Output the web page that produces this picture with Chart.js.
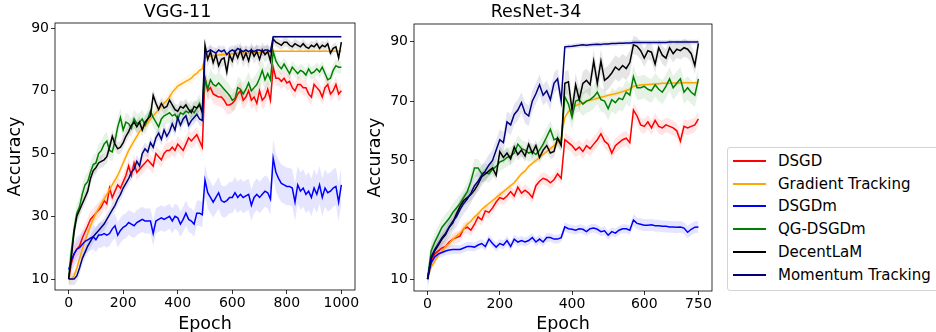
<!DOCTYPE html>
<html>
<head>
<meta charset="utf-8">
<script src="https://cdn.jsdelivr.net/npm/chart.js@4.4.1/dist/chart.umd.min.js"></script>
<style>
  html, body { margin: 0; padding: 0; background: #fff; width: 936px; height: 332px; overflow: hidden; position: relative; }
  canvas { position: absolute; top: 0; }
  #legend { position: absolute; left: 727px; top: 147px; width: 240px; height: 142px;
            border: 1px solid #d4d4d4; border-radius: 3px; background: #fff;
            font-family: "DejaVu Sans", sans-serif; font-size: 15px; color: #000; }
  .sw { position: absolute; left: 5px; width: 33px; height: 2px; }
  .lb { position: absolute; left: 50px; height: 20px; line-height: 20px; white-space: nowrap; }
</style>
</head>
<body>
<canvas id="vgg" width="370" height="340" style="left:0px"></canvas>
<canvas id="resnet" width="370" height="340" style="left:360px"></canvas>
<div id="legend"></div>
<script>
// methods, in legend / drawing order
const methods = ["DSGD", "Gradient Tracking", "DSGDm", "QG-DSGDm", "DecentLaM", "Momentum Tracking"];
const colors = ["#ff0000", "#ffa500", "#0000ff", "#008000", "#000000", "#000080"];
const yTicks = [10, 30, 50, 70, 90];
const vggXTicks = [0, 200, 400, 600, 800, 1000];
const resXTicks = [0, 200, 400, 600, 750];

// epochs sampled every 10
const vggEpochs = Array.from({length: 101}, (_, i) => i * 10);
const resEpochs = Array.from({length: 76}, (_, i) => i * 10);

// learning-rate drops (start epoch of each stage)
const vggStageStarts = [0, 500, 750];
const resStageStarts = [0, 380, 570];

// ---- VGG-11 ----
const vggDSGD = [10,15,18,19.5,20.5,23,25,27,29,30,
  31,32,33,35,34,39,36,38,40,39,
  41,43,46,43,47,44,45,46,47,48,
  47,46,50,49,48,50,51,51,52,51,
  53,52,51,53,55,54,55,56,54,52,
  74,70,71,69,68.5,68,68,67,65.5,65.5,
  66,67,69,70,67,68,70,67,68,66,
  70,67,68,70.5,67,77.5,74,74,73,74,
  72.5,73,71,70,72,72,71,71,69,68,
  72,71,70,68,71,72,69,70,72,69,
  70];
const vggGT = [10,10,11,13.5,16.5,19.5,22,24.5,27,29,
  31,32.5,34,35.5,37,38.5,40,41.5,43,45,
  47,49,51,52.5,54,55.5,57,58,59,60,
  61,62,63,64,65,66,67,68,69.5,70.5,
  71.5,72,72.5,73,73.5,74,75,75.5,76.5,77,
  80.5,81,81,81.2,81.3,81.4,81.5,81.5,81.6,81.7,
  81.8,81.8,81.9,81.9,82,82,82,82.1,82.1,82.1,
  82.2,82.2,82.2,82.3,82.3,82.6,82.6,82.6,82.6,82.6,
  82.6,82.6,82.6,82.6,82.6,82.6,82.6,82.6,82.6,82.6,
  82.6,82.6,82.6,82.6,82.6,82.6,82.6,82.6,82.6,82.6,
  82.6];
const vggDSGDm = [13,16,18,19.5,20,21,22,22.5,23,23.5,
  22.5,24,24,24.5,24,24.5,26,27,24,25.5,
  26.5,27,28,27.5,27,28,28.5,29,28.5,28.5,
  28.5,24.5,28.5,29,29.5,29,29.5,30,28.5,30,
  29.5,27.5,29,31,29,28.5,27.5,31,31,30.5,
  41.5,37.5,36,34.5,36,37.5,35,34.5,35,36,
  36,37.5,36,37,36,36.5,37,33.5,36,37,
  36,37,38,37.5,35.5,48.5,44,42,40.5,40,
  39.5,39.5,39,34.5,40,38,39,37,38,36,
  39,37,40,36,39,37.5,38,39,39.5,34.5,
  40];
const vggQG = [10,19,26,31,33,37,40,41,44,46.5,
  47,50,51,53,54,51,50.5,54,58.5,61.5,
  57.5,60,59.5,58,61,59.5,60,61,59,61,
  63.5,61.5,60,58.5,61,62,62.5,63,62,62.5,
  61,63,62.5,63.5,63,64,63,64.5,66,63.5,
  74,70.5,73.5,72,71.5,72.5,71.5,70.5,69.5,68.5,
  67,67.5,71,70.5,69,70.5,72.5,70,71,72,
  74,76.5,73.5,75.5,73.5,82.5,79.5,78,77,78.5,
  77,75.5,77.5,76.5,75.5,76.5,76,75,77,75.5,
  76,77,76,77.5,75.5,73.5,74,76.5,78,77.5,
  77.5];
const vggDecentLaM = [10,17,25,30,32,34,36,38,42,44.5,
  45.5,47,47.5,48,49,52,55.5,53,51.5,52,
  53.5,55.5,57,59,60,58.5,60,57.5,60,61,
  62,68.5,66,64,66,64.5,65,67,65.5,64,
  63.5,65,64.5,65.5,64,63,65,64.5,65.5,63,
  84.5,80,82.5,79,81.5,78,80,80.5,76,81.5,
  79.5,82.5,80.5,83,80,82,79.5,83,81,82.5,
  80,83,81.5,82.5,79.5,86.5,85.5,85,84.5,85.5,
  85.5,84.5,84,85,84.5,84,85,84,83.5,84.5,
  84,85,83.5,84.5,84,85,82,83.5,84,80.5,
  85.5];
const vggMT = [10,10,10,11,13.5,16.5,18.5,20.5,22,23.5,
  24.5,25.5,26.5,27.5,29,30.5,32,33.5,35.5,37,
  39,40.5,42,44,45,47.5,46,50,51.5,50.5,
  53.5,52,55,56.5,54.5,57.5,55.5,57,59.5,57.5,
  61.5,59,61,62,59,60.5,61.5,62.5,61,60.5,
  82,82.5,83,82.5,82,83,82.5,83,81.5,82.5,
  83,82.5,83.5,83,82.5,83,82.5,83,82.5,83,
  83,82.5,83,83,82.5,87.2,87.2,87.2,87.2,87.2,
  87.2,87.2,87.2,87.2,87.2,87.2,87.2,87.2,87.2,87.2,
  87.2,87.2,87.2,87.2,87.2,87.2,87.2,87.2,87.2,87.2,
  87.2];
// spread of the shaded band per stage, same order as methods
const vggStd = [[2.5, 3, 2.5], [1.5, 0.5, 0.3], [4, 5, 6], [3, 3.5, 2], [2, 2.5, 1.5], [2, 1.5, 0.4]];

// ---- ResNet-34 ----
const resDSGD = [10,16,18.5,19.5,20.5,21,22.5,23.5,24,24.5,
  27,27.5,26.5,28.5,31,30,33,32.5,34,36,
  37.5,37,38,39.5,38,41,39,40,39,37.5,
  41.5,43,44,43.5,42.5,43.5,45.5,44,57,56,
  55,53.5,54.5,53,55,54,55.5,57,59,56.5,
  55.5,52.5,55,56,57,57.5,56,67,65,62,
  61.5,63,61,63.5,61.5,61,62,61.5,61,60,
  56.5,61.5,61,61.5,62,64];
const resGT = [10.5,14,16,18,19.5,21,22,23.5,24.5,25.5,
  27,28.5,29.5,31,32,33.5,34.5,35.5,36.5,37.5,
  38.5,39.5,40.5,41.5,42.5,44,45.5,46.5,48,49,
  50,51,52,53,54,55,56,57.5,64.5,66.5,
  67.5,68.5,69,69.5,70,70.3,70.6,71,71.3,71.6,
  72,72.2,72.5,72.8,73.2,73.6,74,75,75.2,75.4,
  75.5,75.6,75.7,75.8,75.9,76,76,76,76.1,76.1,
  76.1,76.2,76.2,76.2,76.2,76.2];
const resDSGDm = [10,15.5,17.5,18.5,19,19.5,19.8,20,20,20,
  20.5,21,21,20.8,21.5,22,21,23.5,22,20.8,
  22,21.5,23,21,23.5,22.5,23,22.5,23,24,
  22.5,23.5,22.5,24,24,23.5,23.5,24,27.6,27,
  26.8,26.5,27,26.8,26,27,27.2,26.8,26,26.3,
  24.8,26,25.5,26.5,27,27,26.5,29.9,28.8,28.5,
  28.2,28.2,28.3,28,28,27.8,27.8,27.6,27.6,27.5,
  27.6,27.2,25.8,26.8,27.5,27.6];
const resQG = [10,19.5,22.5,25,27.5,29,30.5,32.5,34,35.5,
  37.5,39.5,43,47.5,47.5,45.5,46,45.5,47,48,
  49.5,50,51,51.5,52.5,55.5,54,53.5,52.5,53,
  52,53.5,55.5,58,60.5,57,57.5,56,71.5,69,
  64.5,70,70.5,69,70,70.5,71.5,73,70.5,70,
  67.5,70.5,69.5,71,70.5,73,72,78.2,74.5,74.5,
  75,74,73.5,75.5,74,73,75,77.5,74.5,76,
  77.5,73,74.5,73,72,77.5];
const resDecentLaM = [10,17,19.5,21.5,23.5,25,27.5,29,32,34.5,
  36.5,37.5,38.5,40,42,44.5,45.5,46.5,47.5,45,
  53,51,52.5,50.5,54.5,52,53.5,51.5,55.5,52.5,
  55,51,53.5,55,52.5,53,57.5,55,76,76.5,
  67,75.5,70.5,76,77,75.5,83.5,76,83.5,77,
  78,79.5,81.5,80.5,82,81,83,89,88.5,87,
  84.5,87,86.5,82.5,88,85.5,84.5,88,86,87.5,
  87,88,87.5,86,82,89.5];
const resMT = [10,17.5,20,22,24,25.5,27.5,29.5,31,33.5,
  35.5,37,39,41.5,43,45,46.5,48.5,50,53.5,
  57,56,63,62,65.5,67,69.5,66,65,70,
  72.5,75.5,72,73.5,70.5,76,77.5,70,88.3,88.4,
  88.5,88.7,88.8,89,88.8,89,89.1,89.2,89.1,89.3,
  89.3,89.4,89.4,89.5,89.5,89.6,89.6,89.8,89.8,89.8,
  89.8,89.8,89.8,89.8,89.8,89.8,89.8,89.9,89.9,89.9,
  89.9,89.9,89.9,89.9,89.9,89.9];
const resStd = [[2, 2.5, 2.5], [1, 0.8, 0.5], [1.5, 1.5, 2], [3, 4, 4], [2, 4, 3], [3.5, 0.8, 0.8]];

const FONT = "DejaVu Sans";

function alpha(hex, a) {
  const n = parseInt(hex.slice(1), 16);
  return `rgba(${n >> 16}, ${(n >> 8) & 255}, ${n & 255}, ${a})`;
}

// box around the axes, drawn over the lines like matplotlib spines
const frame = {
  id: 'frame',
  afterDatasetsDraw(chart) {
    const {ctx, chartArea: a} = chart;
    ctx.save();
    ctx.strokeStyle = '#000';
    ctx.lineWidth = 0.8;
    ctx.strokeRect(a.left, a.top, a.right - a.left, a.bottom - a.top);
    ctx.restore();
  }
};

function makeChart(id, title, epochs, series, stds, stages, xTicks, xRange, yRange, box) {
  const stageOf = e => stages.filter(s => e >= s).length - 1;
  const bands = [], lines = [];
  series.forEach((vals, i) => {
    bands.push({
      data: epochs.map((e, k) => ({x: e, y: vals[k] + stds[i][stageOf(e)]})),
      borderWidth: 0, pointRadius: 0, fill: false, order: 100 + i
    });
    bands.push({
      data: epochs.map((e, k) => ({x: e, y: vals[k] - stds[i][stageOf(e)]})),
      borderWidth: 0, pointRadius: 0, fill: '-1',
      backgroundColor: alpha(colors[i], 0.1), order: 100 + i
    });
    lines.push({
      label: methods[i],
      data: epochs.map((e, k) => ({x: e, y: vals[k]})),
      borderColor: colors[i], borderWidth: 1.5, pointRadius: 0,
      fill: false, tension: 0, order: 50 - i
    });
  });

  const tickStyle = {color: '#000', font: {family: FONT, size: 14}, callback: v => String(v)};
  const grid = {drawOnChartArea: false, drawTicks: true, tickLength: 4, color: '#000', lineWidth: 0.8};

  return new Chart(document.getElementById(id), {
    type: 'line',
    data: {datasets: bands.concat(lines)},
    plugins: [frame],
    options: {
      responsive: false,
      animation: false,
      devicePixelRatio: 1,
      layout: {padding: {left: 0, right: box.padRight, top: 0, bottom: 0}},
      plugins: {
        legend: {display: false},
        tooltip: {enabled: false},
        title: {
          display: true, text: title, color: '#000',
          font: {family: FONT, size: 17.5, weight: 'normal', lineHeight: 1.2},
          padding: {top: 1.8, bottom: box.titleBottom}
        }
      },
      scales: {
        x: {
          type: 'linear', min: xRange[0], max: xRange[1],
          afterBuildTicks: s => { s.ticks = xTicks.map(v => ({value: v})); },
          afterFit: s => { s.height = box.xAxisH; },
          grid, border: {display: false},
          ticks: {...tickStyle, padding: 1, maxRotation: 0, autoSkip: false},
          title: {display: true, text: 'Epoch', color: '#000',
                  font: {family: FONT, size: 17.5, lineHeight: 1.2}, padding: {top: 0, bottom: 4.8}}
        },
        y: {
          type: 'linear', min: yRange[0], max: yRange[1],
          afterBuildTicks: s => { s.ticks = yTicks.map(v => ({value: v})); },
          afterFit: s => { s.width = box.yAxisW; },
          grid, border: {display: false},
          ticks: {...tickStyle, padding: 2},
          title: {display: true, text: 'Accuracy', color: '#000',
                  font: {family: FONT, size: 17.5, lineHeight: 1.2}, padding: {top: 4.5, bottom: 0}}
        }
      }
    }
  });
}

makeChart('vgg', 'VGG-11', vggEpochs,
  [vggDSGD, vggGT, vggDSGDm, vggQG, vggDecentLaM, vggMT], vggStd, vggStageStarts,
  vggXTicks, [-50, 1050], [6.5, 91.6],
  {padRight: 15, titleBottom: 0.2, xAxisH: 50, yAxisW: 55});

makeChart('resnet', 'ResNet-34', resEpochs,
  [resDSGD, resGT, resDSGDm, resQG, resDecentLaM, resMT], resStd, resStageStarts,
  resXTicks, [-37.5, 787.5], [6, 96],
  {padRight: 18, titleBottom: 1.2, xAxisH: 49, yAxisW: 54});

// legend box on the right
const legend = document.getElementById('legend');
methods.forEach((m, i) => {
  const cy = 12.7 + i * 22.86;
  const sw = document.createElement('div');
  sw.className = 'sw';
  sw.style.top = Math.round(cy - 1) + 'px';
  sw.style.background = colors[i];
  const lb = document.createElement('div');
  lb.className = 'lb';
  lb.style.top = (cy - 10) + 'px';
  lb.textContent = m;
  legend.appendChild(sw);
  legend.appendChild(lb);
});
</script>
</body>
</html>
